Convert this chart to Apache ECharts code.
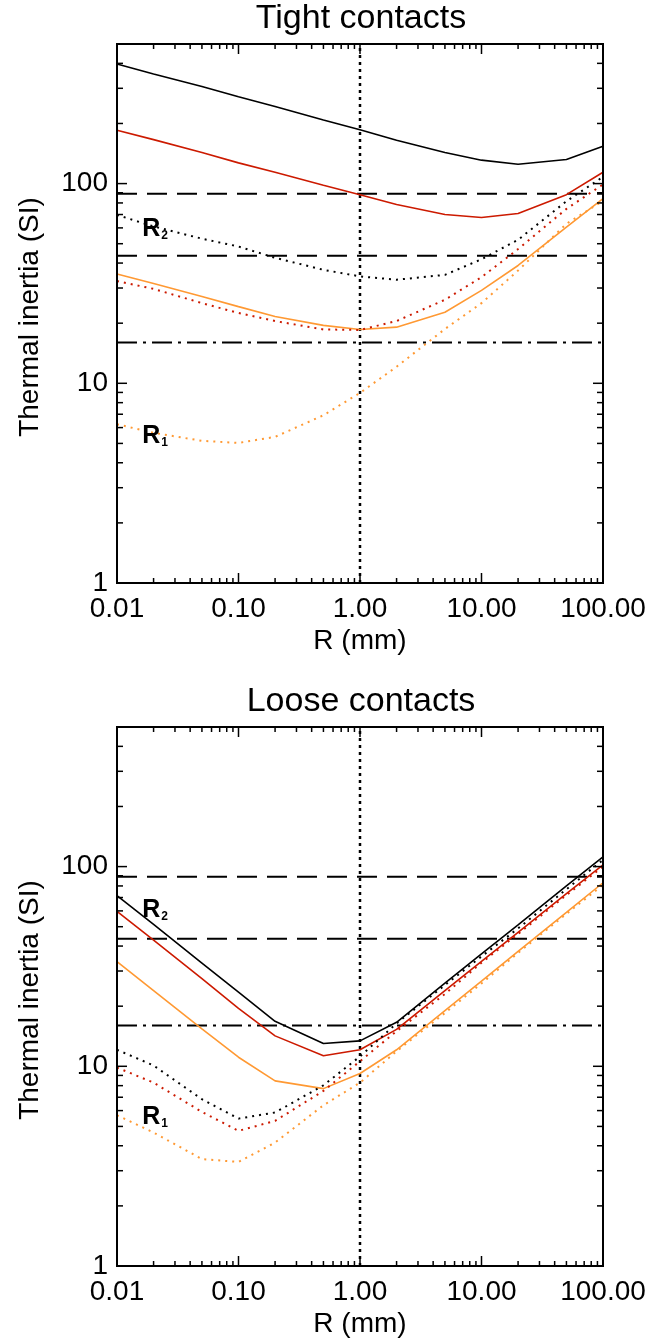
<!DOCTYPE html>
<html>
<head>
<meta charset="utf-8">
<script src="https://cdn.jsdelivr.net/npm/echarts@6/dist/echarts.min.js"></script>
<style>
html,body{margin:0;padding:0;background:#fff;}
#chart{width:671px;height:1340px;}
</style>
</head>
<body>
<div id="chart"></div>
<script>
// ---------------- DATA ----------------
const radius = [0.01, 0.02, 0.05, 0.1, 0.2, 0.5, 1, 2, 5, 10, 20, 50, 100];

// Tight contacts
const tightBlackSolid   = [397, 354, 306, 272, 243, 208, 186, 165, 143, 131, 125, 132, 154];
const tightRedSolid     = [185, 166, 143, 127, 114, 98, 88, 78.5, 70, 67.6, 70.8, 88, 114];
const tightOrangeSolid  = [35.3, 31.6, 27.2, 24.2, 21.6, 19.5, 18.6, 19.1, 22.7, 29.2, 38.9, 60.6, 84];
const tightBlackDotted  = [69.7, 61, 53, 48.4, 42.5, 37, 34.3, 33, 34.9, 41.8, 52.3, 81.6, 108];
const tightRedDotted    = [32.5, 29.7, 25.2, 22.5, 20.5, 18.6, 18.5, 20.5, 26.2, 34, 47, 74.7, 99];
const tightOrangeDotted = [6.24, 5.65, 5.15, 5.03, 5.39, 6.92, 8.95, 12.1, 18.7, 25.2, 36.7, 62.9, 82];

// Loose contacts
const looseBlackSolid   = [71.6, 51.3, 32.9, 23.5, 16.8, 13.0, 13.4, 16.6, 26.1, 36.6, 51, 80, 112];
const looseRedSolid     = [59.6, 42.8, 27.5, 19.5, 14.2, 11.3, 12.1, 15.3, 23.9, 33.5, 46.9, 73.3, 102];
const looseOrangeSolid  = [33.4, 23.9, 15.4, 11.1, 8.45, 7.73, 9.2, 12.1, 19, 26.7, 37.6, 59, 83];
const looseBlackDotted  = [12.1, 10.1, 6.84, 5.47, 5.87, 8.03, 11.2, 16.4, 25.5, 35.5, 49, 77, 108];
const looseRedDotted    = [9.85, 8.28, 5.91, 4.75, 5.33, 7.53, 10.6, 15, 23, 33, 46, 72, 100];
const looseOrangeDotted = [5.69, 4.66, 3.43, 3.32, 4.15, 6.38, 8.28, 11.9, 18.5, 26, 37, 58, 81];

// Reference levels
const dashedLevels = [89, 43.5];
const dashDotLevel = 16;
const verticalRef = 1;

// Axes
const xRange = [0.01, 100];
const yRange = [1, 500];
const xTickLabels = ['0.01', '0.10', '1.00', '10.00', '100.00'];
const yTickLabels = ['1', '10', '100'];
const xMajorTicks = [0.01, 0.1, 1, 10, 100];
const yMajorTicks = [1, 10, 100];
const minorMultipliers = [2, 3, 4, 5, 6, 7, 8, 9];

// Label annotations [x, y]
const tightR2Pos = [0.0161, 58.9];
const tightR1Pos = [0.0161, 5.43];
const looseR2Pos = [0.0161, 60.3];
const looseR1Pos = [0.0161, 5.56];

// ---------------- STYLES ----------------
const FONT = '"Liberation Sans", Arial, Helvetica, sans-serif';
const BLACK = '#000000', RED = '#cc1a00', ORANGE = '#ff9933';

function minorList(majors, maxV) {
  const out = [];
  majors.forEach(m => minorMultipliers.forEach(k => { const v = m * k; if (v <= maxV * 1.0001) out.push(v); }));
  return out;
}
const xMinorTicks = minorList(xMajorTicks.slice(0, -1), xRange[1]);
const yMinorTicks = minorList(yMajorTicks, yRange[1]);

function zip(ys) { return radius.map((x, i) => [x, ys[i]]); }

const grids = [
  { left: 117, top: 44, width: 486, height: 539 },
  { left: 117, top: 727, width: 486, height: 539 }
];

const xAxes = grids.map((g, i) => ({
  type: 'log', logBase: 10, gridIndex: i, min: xRange[0], max: xRange[1],
  axisLine: { show: false }, axisTick: { show: false }, splitLine: { show: false },
  axisLabel: {
    color: '#000', fontSize: 28, fontFamily: FONT, margin: 12,
    showMinLabel: true, showMaxLabel: true,
    formatter: v => {
      const e = Math.log10(v);
      if (Math.abs(e - Math.round(e)) > 1e-6) return '';
      return xTickLabels[Math.round(e) + 2] || '';
    }
  }
}));
const yAxes = grids.map((g, i) => ({
  type: 'log', logBase: 10, gridIndex: i, min: yRange[0], max: yRange[1],
  axisLine: { show: false }, axisTick: { show: false }, splitLine: { show: false },
  axisLabel: {
    color: '#000', fontSize: 28, fontFamily: FONT, margin: 9,
    formatter: v => {
      const e = Math.log10(v);
      if (Math.abs(e - Math.round(e)) > 1e-6) return '';
      return yTickLabels[Math.round(e)] || '';
    }
  }
}));

function lineSeries(gi, ys, color, dotted) {
  return {
    type: 'line', xAxisIndex: gi, yAxisIndex: gi, data: zip(ys),
    showSymbol: false, symbol: 'none', silent: true, animation: false, z: 3,
    lineStyle: dotted ? { color, width: 2, type: [2, 5], cap: 'butt' } : { color, width: 1.6 }
  };
}
function hLine(gi, level, dash) {
  return {
    type: 'line', xAxisIndex: gi, yAxisIndex: gi,
    data: [[xRange[0], level], [xRange[1], level]],
    showSymbol: false, symbol: 'none', silent: true, animation: false, z: 2,
    lineStyle: { color: BLACK, width: 2, type: dash, dashOffset: 0 }
  };
}
function vLine(gi) {
  return {
    type: 'line', xAxisIndex: gi, yAxisIndex: gi,
    data: [[verticalRef, yRange[0]], [verticalRef, yRange[1]]],
    showSymbol: false, symbol: 'none', silent: true, animation: false, z: 2,
    lineStyle: { color: BLACK, width: 2.5, type: [3, 4] }
  };
}
function labelSeries(gi, pos, sub) {
  return {
    type: 'scatter', xAxisIndex: gi, yAxisIndex: gi, data: [pos],
    symbolSize: 0, silent: true, animation: false, z: 5,
    itemStyle: { color: '#000', opacity: 1 },
    label: {
      show: true, position: 'right', distance: 0, color: '#000', opacity: 1,
      textBorderWidth: 0,
      formatter: '{r|R}{s|' + sub + '}',
      rich: {
        r: { fontSize: 25, fontWeight: 'bold', fontFamily: FONT, color: '#000', textBorderWidth: 0 },
        s: { fontSize: 12, fontWeight: 'bold', fontFamily: FONT, color: '#000', textBorderWidth: 0, verticalAlign: 'bottom', padding: [12, 0, 0, 1] }
      }
    }
  };
}
function tickSeries(gi) {
  return {
    type: 'custom', xAxisIndex: gi, yAxisIndex: gi, data: [[1, 10]],
    silent: true, animation: false, clip: false, z: 6,
    renderItem: (params, api) => {
      const cs = params.coordSys;
      const x0 = cs.x, x1 = cs.x + cs.width, y0 = cs.y, y1 = cs.y + cs.height;
      const children = [];
      const st = { stroke: '#000', lineWidth: 1.5 };
      const addX = (v, len) => {
        const px = api.coord([v, yRange[0]])[0];
        children.push({ type: 'line', shape: { x1: px, y1: y1, x2: px, y2: y1 - len }, style: st });
        children.push({ type: 'line', shape: { x1: px, y1: y0, x2: px, y2: y0 + len }, style: st });
      };
      const addY = (v, len) => {
        const py = api.coord([xRange[0], v])[1];
        children.push({ type: 'line', shape: { x1: x0, y1: py, x2: x0 + len, y2: py }, style: st });
        children.push({ type: 'line', shape: { x1: x1, y1: py, x2: x1 - len, y2: py }, style: st });
      };
      xMajorTicks.forEach(v => addX(v, 10));
      xMinorTicks.forEach(v => addX(v, 5));
      yMajorTicks.forEach(v => addY(v, 10));
      yMinorTicks.forEach(v => addY(v, 6));
      children.push({ type: 'rect', shape: { x: x0, y: y0, width: cs.width, height: cs.height }, style: { fill: null, stroke: '#000', lineWidth: 2 } });
      return { type: 'group', children };
    }
  };
}

const panels = [
  { solids: [tightBlackSolid, tightRedSolid, tightOrangeSolid], dots: [tightBlackDotted, tightRedDotted, tightOrangeDotted], r2: tightR2Pos, r1: tightR1Pos },
  { solids: [looseBlackSolid, looseRedSolid, looseOrangeSolid], dots: [looseBlackDotted, looseRedDotted, looseOrangeDotted], r2: looseR2Pos, r1: looseR1Pos }
];
const colors = [BLACK, RED, ORANGE];
const series = [];
panels.forEach((p, gi) => {
  series.push(hLine(gi, dashedLevels[0], [20, 10]));
  series.push(hLine(gi, dashedLevels[1], [20, 10]));
  series.push(hLine(gi, dashDotLevel, [20, 6, 3, 6]));
  series.push(vLine(gi));
  p.solids.forEach((s, k) => series.push(lineSeries(gi, s, colors[k], false)));
  p.dots.forEach((s, k) => series.push(lineSeries(gi, s, colors[k], true)));
  series.push(labelSeries(gi, p.r2, '2'));
  series.push(labelSeries(gi, p.r1, '1'));
  series.push(tickSeries(gi));
});

function txt(text, x, y, size, rot) {
  return {
    type: 'text', x, y, rotation: rot || 0, silent: true,
    style: { text, fontSize: size, fontFamily: FONT, fill: '#000', align: 'center', verticalAlign: 'middle' }
  };
}

const option = {
  animation: false,
  backgroundColor: '#fff',
  grid: grids.map(g => Object.assign({ containLabel: false }, g)),
  xAxis: xAxes,
  yAxis: yAxes,
  series,
  graphic: [
    txt('Tight contacts', 361, 19, 34),
    txt('Loose contacts', 361, 702, 34),
    txt('Thermal inertia (SI)', 30, 317, 28, Math.PI / 2),
    txt('Thermal inertia (SI)', 30, 1000, 28, Math.PI / 2),
    txt('R (mm)', 360, 641, 28),
    txt('R (mm)', 360, 1324, 28)
  ]
};

const chart = echarts.init(document.getElementById('chart'), null, { renderer: 'canvas' });
chart.setOption(option);
</script>
</body>
</html>
